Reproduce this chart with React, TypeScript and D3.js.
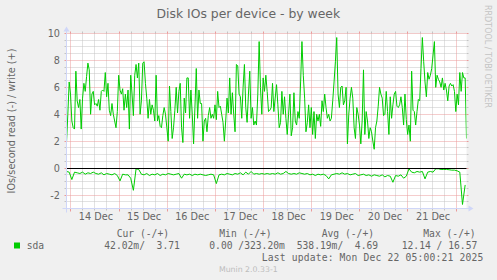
import React from 'react';
import * as d3 from 'd3';

const startTime = new Date(2025, 11, 13, 21, 50);
const endTime = new Date(2025, 11, 22, 5, 10);
const writeStepMinutes = 40;
const readStepMinutes = 80;

const writeValues = [
  1.9, 4.0, 6.4, 5.5, 3.5, 3.0, 2.9, 7.2, 5.0, 4.5, 5.1, 2.9, 5.2, 6.3, 5.7, 6.8, 7.8, 7.3, 4.0, 5.5,
  5.7, 4.7, 4.8, 4.6, 5.1, 4.3, 5.7, 5.8, 5.7, 7.1, 5.3, 6.3, 4.3, 3.9, 4.8, 4.0, 3.5, 3.0, 4.2, 6.9,
  5.8, 5.5, 5.9, 4.3, 5.5, 4.5, 5.8, 2.9, 6.9, 5.5, 3.9, 6.9, 7.7, 6.7, 7.8, 4.0, 5.0, 7.8, 7.9, 6.3,
  5.2, 3.7, 5.1, 4.0, 4.7, 4.3, 3.5, 6.9, 3.5, 3.9, 3.1, 3.0, 3.9, 4.5, 4.0,
  3.0, 2.0, 6.1, 4.2, 2.2, 3.0, 4.3, 6.0, 4.1, 5.7, 6.3, 3.0, 1.9, 5.2, 4.1, 6.7, 6.7, 3.7, 5.8, 4.0,
  1.8, 4.5, 7.4, 3.7, 5.8, 4.8, 4.8, 2.0, 3.5, 3.7, 2.7, 3.9, 4.5, 3.7, 4.0, 3.7, 4.7, 3.6, 5.7, 4.5,
  4.6, 4.0, 3.4, 2.0, 3.5, 5.2, 4.1, 6.7, 4.0, 5.6, 4.0, 2.7, 7.7, 7.6, 5.5, 5.3, 3.7, 6.0, 7.7, 4.5,
  3.4, 5.5, 7.2, 3.7, 4.5, 3.2, 3.5, 3.2, 5.5, 9.4, 6.0, 4.0, 6.7, 5.7, 6.9,
  5.7, 4.2, 4.3, 4.5, 6.3, 4.2, 5.2, 6.2, 4.7, 3.0, 3.4, 5.7, 4.0, 5.3, 3.7, 2.5, 4.0, 5.5, 2.4, 3.0,
  5.6, 3.5, 3.2, 4.2, 3.7, 6.4, 9.4, 6.9, 5.2, 2.7, 3.4, 4.7, 3.0, 4.5, 2.5, 4.2, 2.2, 4.0, 3.5, 4.0,
  3.1, 5.0, 4.2, 5.5, 4.5, 3.7, 4.0, 3.5, 3.7, 5.0, 6.4, 7.9, 9.7, 5.5, 4.5, 6.0, 6.1, 4.7, 5.0, 6.0,
  1.8, 4.0, 5.2, 6.0, 5.2, 3.0, 2.2, 4.5, 4.0, 3.2, 1.8,
  3.5,
  7.3, 2.5, 4.2, 3.5, 2.2, 3.0, 2.7, 2.0, 1.4, 3.0, 3.5, 4.6, 6.0, 5.5, 5.2, 3.9, 4.0, 5.7, 4.2, 2.5,
  5.3, 3.7, 4.7, 5.5, 5.7, 4.6, 4.5, 4.7, 5.3, 4.5, 3.2, 5.5, 3.6, 2.5, 3.2, 2.0, 7.2, 4.3, 4.2, 3.2,
  4.2, 5.1, 5.0, 7.4, 9.7, 7.9, 6.4, 5.3, 7.1, 6.6, 6.9, 7.4, 8.4, 9.4, 6.0, 6.9, 6.6, 6.4, 6.0, 6.7,
  5.8, 6.3, 5.8, 5.0, 6.1, 6.3, 6.1, 6.2, 5.7, 4.2, 5.5, 4.7, 7.1, 5.7, 7.1, 6.7, 6.7, 2.2,
];

const readValues = [
  -0.25, -0.3, -0.85, -0.3, -0.35, -0.4, -0.3, -0.45, -0.35, -0.4,
  -0.3, -0.4, -0.45, -0.35, -0.5, -0.4, -0.45, -0.5, -0.4, -0.55,
  -0.95, -0.45, -0.5, -0.5, -0.75, -1.65, -0.05, -0.1, -0.45, -0.5,
  -0.4, -0.55, -0.45, -0.5, -0.4, -0.55, -0.45, -0.5, -0.4, -0.45,
  -0.5, -0.45, -0.4, -0.75, -0.45, -0.5, -0.45, -0.55, -0.45, -0.5,
  -0.45, -0.5, -0.55, -0.5, -0.45, -0.5, -1.15, -0.5, -0.45, -0.5,
  -0.4, -0.45, -0.5, -0.4, -0.45, -0.35, -0.5, -0.3, -0.45, -0.25,
  -0.45, -0.4, -0.45, -0.4, -0.45, -0.4, -0.45, -0.4, -0.45, -0.35,
  -0.45, -0.4, -0.25, -0.4, -0.45, -0.4, -0.45, -0.35, -0.4, -0.45,
  -0.4, -0.5, -0.45, -0.55, -0.45, -0.5, -0.45, -0.55, -0.8, -0.5,
  -0.45, -0.4, -0.45, -0.35, -0.45, -0.4, -0.5, -0.45, -0.4, -0.55,
  -0.5, -0.45, -0.55, -0.5, -0.6, -0.5, -0.55, -0.6, -0.5, -0.65,
  -0.55, -0.6, -1.05, -0.55, -0.6, -0.5, -0.75, -0.6, -0.05, -0.3,
  -0.35, -0.25, -0.3, -0.25, -0.8, -0.3, -0.25, -0.3, -0.05, -0.05,
  -0.1, -0.1, -0.1, -0.12, -0.15, -0.15, -0.2, -0.3, -2.7, -1.25,
];

const yTicks = [-2, 0, 2, 4, 6, 8, 10];
const yMin = -3;
const yMax = 10;
const title = 'Disk IOs per device - by week';
const yLabel = 'IOs/second read (-) / write (+)';
const seriesName = 'sda';
const seriesColor = '#00cc00';
const legendHeaders = ['Cur (-/+)', 'Min (-/+)', 'Avg (-/+)', 'Max (-/+)'];
const legendValues = ['42.02m/  3.71', '0.00 /323.20m', '538.19m/  4.69', '12.14 / 16.57'];
const lastUpdate = 'Last update: Mon Dec 22 05:00:21 2025';
const watermark = 'Munin 2.0.33-1';
const sideText = 'RRDTOOL / TOBI OETIKER';

const W = 497;
const H = 280;
const X0 = 66.5;
const X1 = 466.5;
const Y0 = 208.5;
const Y1 = 33.5;
const SANS = 'DejaVu Sans, Verdana, sans-serif';
const MONO = 'DejaVu Sans Mono, monospace';
const FONT_COL = '#666666';
const AXIS_COL = '#CFD6F8';
const GRID_COL = '#c4c4c4';
const MGRID_COL = '#eb9a9a';

export default function App() {
  const x = d3.scaleTime().domain([startTime, endTime]).range([X0, X1]);
  const y = d3.scaleLinear().domain([yMin, yMax]).range([Y0, Y1]);
  const crisp = (p: number) => Math.floor(p) + 0.5;

  const writePts = writeValues.map((v, i) => [new Date(+startTime + i * writeStepMinutes * 60000), v] as [Date, number]);
  const readPts = readValues.map((v, i) => [new Date(+startTime + i * readStepMinutes * 60000), v] as [Date, number]);
  const line = d3.line<[Date, number]>().x(d => x(d[0])).y(d => y(d[1]));

  const minorY = d3.range(yMin + 0.5, yMax + 0.001, 0.5).filter(v => Math.abs(v % 2) > 0.01);
  const majorY = yTicks;
  const days = d3.timeDay.range(startTime, endTime);
  const minorX = d3.timeHour.every(6)!.range(startTime, endTime).filter(t => t.getHours() !== 0);
  const labelDays = d3.timeDay.range(d3.timeDay.floor(startTime), endTime)
    .map(d => d3.timeHour.offset(d, 12))
    .filter(t => t > startTime && t < endTime);
  const fmt = d3.timeFormat('%d %b');

  const headerX = [116.7, 219.3, 321.7, 423.3];
  const valueX = [104.3, 209.3, 296.7, 401.7];

  return (
    <svg width={W} height={H} style={{ position: 'absolute', left: 0, top: 0 }}>
      <defs>
        <clipPath id="plotclip">
          <rect x={X0} y={Y1 - 1} width={X1 - X0} height={Y0 - Y1 + 2} />
        </clipPath>
      </defs>
      <rect x={0} y={0} width={W} height={H} fill="#F0F0F0" />
      <rect x={X0} y={Y1} width={X1 - X0} height={Y0 - Y1} fill="#FFFFFF" />

      {minorY.map(v => {
        const yy = crisp(y(v));
        return (
          <g key={'my' + v}>
            <line x1={X0} x2={X1} y1={yy} y2={yy} stroke={GRID_COL} strokeDasharray="1,1" />
            <line x1={X0 - 2} x2={X0} y1={yy} y2={yy} stroke={GRID_COL} />
            <line x1={X1} x2={X1 + 2} y1={yy} y2={yy} stroke={GRID_COL} />
          </g>
        );
      })}
      {minorX.map(t => {
        const xx = crisp(x(t));
        return (
          <g key={'mx' + +t}>
            <line x1={xx} x2={xx} y1={Y1} y2={Y0} stroke={GRID_COL} strokeDasharray="1,1" />
            <line x1={xx} x2={xx} y1={Y0} y2={Y0 + 2} stroke={GRID_COL} />
            <line x1={xx} x2={xx} y1={Y1 - 2} y2={Y1} stroke={GRID_COL} />
          </g>
        );
      })}
      {majorY.map(v => {
        const yy = crisp(y(v));
        return (
          <g key={'My' + v}>
            <line x1={X0} x2={X1} y1={yy} y2={yy} stroke={MGRID_COL} strokeDasharray="1,1" />
            <line x1={X0 - 2} x2={X0} y1={yy} y2={yy} stroke={MGRID_COL} />
            <line x1={X1} x2={X1 + 2} y1={yy} y2={yy} stroke={MGRID_COL} />
          </g>
        );
      })}
      {days.map(t => {
        const xx = crisp(x(t));
        return (
          <g key={'Mx' + +t}>
            <line x1={xx} x2={xx} y1={Y1} y2={Y0} stroke={MGRID_COL} strokeDasharray="1,1" />
            <line x1={xx} x2={xx} y1={Y0} y2={Y0 + 3} stroke={MGRID_COL} />
            <line x1={xx} x2={xx} y1={Y1 - 2} y2={Y1} stroke={MGRID_COL} />
          </g>
        );
      })}

      <g clipPath="url(#plotclip)">
        <path d={line(writePts) || ''} fill="none" stroke={seriesColor} strokeWidth={1} />
        <path d={line(readPts) || ''} fill="none" stroke={seriesColor} strokeWidth={1} />
      </g>
      <line x1={X0} x2={X1} y1={crisp(y(0))} y2={crisp(y(0))} stroke="#000000" strokeWidth={1} />

      <line x1={X0 - 4} x2={X1 + 4} y1={Y0} y2={Y0} stroke={AXIS_COL} />
      <line x1={X0} x2={X0} y1={Y0 + 4} y2={Y1 - 4} stroke={AXIS_COL} />
      <polygon points={`${X1 + 2},${Y0 - 3} ${X1 + 2},${Y0 + 3} ${X1 + 7},${Y0}`} fill={AXIS_COL} />
      <polygon points={`${X0 - 3},${Y1 - 2} ${X0 + 3},${Y1 - 2} ${X0},${Y1 - 7}`} fill={AXIS_COL} />

      {yTicks.map(v => (
        <text key={'yl' + v} x={60} y={y(v) + 3.5} textAnchor="end" fontFamily={SANS} fontSize={9.7} fill={FONT_COL}>
          {v}
        </text>
      ))}
      {labelDays.map(t => (
        <text key={'xl' + +t} x={x(t) + 1} y={220} textAnchor="middle" fontFamily={SANS} fontSize={9.7} fill={FONT_COL}>
          {fmt(t)}
        </text>
      ))}

      <text x={248.3} y={17.5} textAnchor="middle" fontFamily={SANS} fontSize={12.4} fill={FONT_COL}>
        {title}
      </text>
      <text transform="translate(15,121) rotate(-90)" textAnchor="middle" fontFamily={SANS} fontSize={9.7} fill={FONT_COL}>
        {yLabel}
      </text>
      <text transform="translate(485.3,5) rotate(90)" textAnchor="start" fontFamily={SANS} fontSize={8} fill="#c4c4c4">
        {sideText}
      </text>

      {legendHeaders.map((h, i) => (
        <text key={'lh' + i} x={headerX[i]} y={237} fontFamily={MONO} fontSize={9.67} fill={FONT_COL} style={{ whiteSpace: 'pre' }}>
          {h}
        </text>
      ))}
      <rect x={14} y={242.5} width={6} height={6} fill={seriesColor} />
      <text x={26.7} y={249} fontFamily={MONO} fontSize={9.67} fill={FONT_COL}>
        {seriesName}
      </text>
      {legendValues.map((v, i) => (
        <text key={'lv' + i} x={valueX[i]} y={249} fontFamily={MONO} fontSize={9.67} fill={FONT_COL} style={{ whiteSpace: 'pre' }}>
          {v}
        </text>
      ))}
      <text x={261.7} y={261.3} textLength={221.6} lengthAdjust="spacing" fontFamily={MONO} fontSize={9.67} fill={FONT_COL} style={{ whiteSpace: 'pre' }}>
        {lastUpdate}
      </text>
      <text x={248.3} y={271.7} textAnchor="middle" fontFamily={SANS} fontSize={7.8} fill="#bdbdbd">
        {watermark}
      </text>
    </svg>
  );
}
